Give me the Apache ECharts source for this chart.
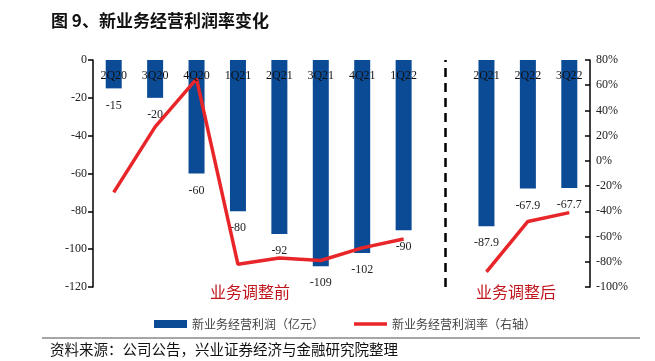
<!DOCTYPE html>
<html>
<head>
<meta charset="utf-8">
<script src="https://cdn.jsdelivr.net/npm/echarts@6/dist/echarts.min.js"></script>
<style>
html,body{margin:0;padding:0;background:#fff;}
#c{width:655px;height:361px;}
</style>
</head>
<body>
<div id="c"></div>
<script>
var categories = ['2Q20','3Q20','4Q20','1Q21','2Q21','3Q21','4Q21','1Q22','','2Q21','2Q22','3Q22'];
var profit = [-15,-20,-60,-80,-92,-109,-102,-90,null,-87.9,-67.9,-67.7];
var margin = [-25,27,65,-82,-77,-79,-69,-62,null,-88,-48,-41];
var leftTicks = {min:-120, max:0, interval:20};
var rightTicks = {min:-100, max:80, interval:20};
var seriesNames = ['新业务经营利润（亿元）','新业务经营利润率（右轴）'];

var serif = '"Liberation Serif","Times New Roman",serif';
var cjk = '"Noto Sans CJK SC","Noto Sans",sans-serif';

var chart = echarts.init(document.getElementById('c'));
chart.setOption({
  backgroundColor:'#fff',
  animation:false,
  grid:{left:93,right:65,top:60,bottom:74},
  legend:{
    left:149, top:313, itemGap:30, itemWidth:33, itemHeight:8,
    textStyle:{fontFamily:cjk,fontSize:12,color:'#444'},
    data:[{name:seriesNames[0],icon:'rect'},
          {name:seriesNames[1],icon:'path://M0,0H36V4H0Z'}]
  },
  xAxis:{
    type:'category', position:'top', data:categories, boundaryGap:true, z:10,
    axisLine:{show:false}, axisTick:{show:false},
    axisLabel:{inside:true, margin:10, fontFamily:serif, fontSize:12, color:'#111', interval:0}
  },
  yAxis:[
    {type:'value', min:leftTicks.min, max:leftTicks.max, interval:leftTicks.interval,
     splitLine:{show:false},
     axisLine:{show:true,lineStyle:{color:'#000',width:1.5}},
     axisTick:{show:true,length:5,lineStyle:{color:'#000',width:1.5}},
     axisLabel:{fontFamily:serif,fontSize:12,color:'#222',margin:6}},
    {type:'value', min:rightTicks.min, max:rightTicks.max, interval:rightTicks.interval,
     position:'right', splitLine:{show:false},
     axisLine:{show:true,lineStyle:{color:'#000',width:1.5}},
     axisTick:{show:true,inside:true,length:5,lineStyle:{color:'#000',width:1.5}},
     axisLabel:{fontFamily:serif,fontSize:12,color:'#222',margin:6,formatter:'{value}%'}}
  ],
  series:[
    {name:seriesNames[0], type:'bar', data:profit, barWidth:16, z:2,
     itemStyle:{color:'#0B4A94'},
     label:{show:true, position:'bottom', distance:11, fontFamily:serif, fontSize:12, color:'#222'},
     markLine:{silent:true, symbol:'none', label:{show:false},
       lineStyle:{type:[9,6],color:'#000',width:2.5},
       data:[{xAxis:8}]}
    },
    {name:seriesNames[1], type:'line', yAxisIndex:1, data:margin, z:3,
     showSymbol:false, symbol:'none', connectNulls:false,
     lineStyle:{color:'#E8262A',width:3.5}, itemStyle:{color:'#E8262A'}}
  ],
  graphic:[
    {type:'text', left:51, top:12, style:{text:'图 9、新业务经营利润率变化', font:'bold 17px '+cjk, fill:'#111'}},
    {type:'text', left:210, top:284, style:{text:'业务调整前', font:'16px '+cjk, fill:'#C0141C'}},
    {type:'text', left:476, top:284, style:{text:'业务调整后', font:'16px '+cjk, fill:'#C0141C'}},
    {type:'line', shape:{x1:42,y1:338,x2:640,y2:338}, style:{stroke:'#888',lineWidth:1.5}},
    {type:'text', left:50, top:342, style:{text:'资料来源：公司公告，兴业证券经济与金融研究院整理', font:'14.5px '+cjk, fill:'#111'}}
  ]
});
</script>
</body>
</html>
